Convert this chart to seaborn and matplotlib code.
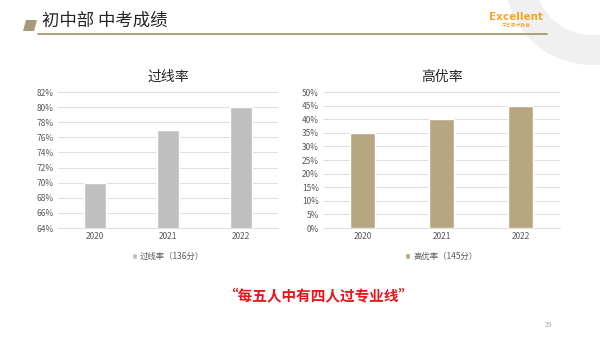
import matplotlib
matplotlib.use("Agg")
import matplotlib.pyplot as plt
import seaborn as sns
from matplotlib.patches import Polygon, Wedge
from matplotlib.ticker import FuncFormatter, MultipleLocator

years = ["2020", "2021", "2022"]
pass_rate = [70, 77, 80]
excellent_rate = [35, 40, 45]
left_title = "过线率"
right_title = "高优率"
left_legend = "过线率（136分）"
right_legend = "高优率（145分）"
header = "初中部 中考成绩"
slogan = "“每五人中有四人过专业线”"
page_no = "29"

sns.set_theme(style="white")
plt.rcParams['font.family'] = ['Noto Sans CJK SC', 'DejaVu Sans']

W, H = 600, 338
fig = plt.figure(figsize=(6, 3.38), dpi=100)
fig.patch.set_facecolor("white")

def fx(x):
    return x / W

def fy(y):
    return 1 - y / H

# decorative ring (inch coordinates so it stays circular)
ring = Wedge((5.92, 3.38 + 0.22), 0.87, 0, 360, width=0.30,
             transform=fig.dpi_scale_trans, facecolor="#F0F0F0", edgecolor="none")
fig.patches.append(ring)

# header marker
poly = Polygon([(fx(26), fy(20)), (fx(37), fy(20)), (fx(34), fy(31)), (fx(23), fy(31))],
               closed=True, transform=fig.transFigure, facecolor="#A89A78", edgecolor="none")
fig.patches.append(poly)
fig.lines.append(plt.Line2D([fx(38), fx(547)], [fy(34), fy(34)], transform=fig.transFigure,
                            color="#A8996F", linewidth=1.3))
fig.text(fx(42), fy(21), header, fontsize=12.5, color="#262626", va="center", ha="left")

# logo
fig.text(fx(516), fy(17), "Excellent", fontsize=7.5, color="#F5A623", fontweight="bold",
         va="center", ha="center", family=["DejaVu Sans"])
fig.text(fx(516), fy(25.5), "中艺美术教育", fontsize=3.5, color="#F5A623",
         va="center", ha="center")

gridc = "#D9D9D9"
tickc = "#595959"

def style(ax, title, ymin, ymax, step):
    ax.set_ylim(ymin, ymax)
    ax.set_xlim(-0.5, 2.5)
    ax.yaxis.set_major_locator(MultipleLocator(step))
    ax.yaxis.set_major_formatter(FuncFormatter(lambda v, p: f"{v:.0f}%"))
    ax.grid(axis="y", color=gridc, linewidth=0.6)
    ax.set_axisbelow(True)
    for s in ["top", "right", "left"]:
        ax.spines[s].set_visible(False)
    ax.spines["bottom"].set_color(gridc)
    ax.spines["bottom"].set_linewidth(0.6)
    ax.tick_params(axis="both", labelsize=6, colors=tickc, length=0, pad=3)
    ax.set_xlabel("")
    ax.set_ylabel("")
    ax.set_title(title, fontsize=10, color="#262626", pad=8)
    ax.legend(loc="upper center", bbox_to_anchor=(0.5, -0.12), frameon=False,
              fontsize=6, handlelength=0.6, handleheight=0.6, handletextpad=0.4,
              labelcolor=tickc)

ax1 = fig.add_axes([fx(58), fy(228), fx(220), 136 / H])
sns.barplot(x=years, y=pass_rate, color="#BFBFBF", width=0.3, ax=ax1,
            label=left_legend, saturation=1)
style(ax1, left_title, 64, 82, 2)

ax2 = fig.add_axes([fx(323), fy(228), fx(237), 136 / H])
sns.barplot(x=years, y=excellent_rate, color="#B8A681", width=0.32, ax=ax2,
            label=right_legend, saturation=1)
style(ax2, right_title, 0, 50, 5)

fig.text(fx(318), fy(296), slogan, fontsize=10.5, color="#E8161B", fontweight="bold",
         ha="center", va="center")
fig.text(fx(549), fy(325), page_no, fontsize=5, color="#A6A6A6", ha="center", va="center")

fig.savefig("out.png", dpi=100)
